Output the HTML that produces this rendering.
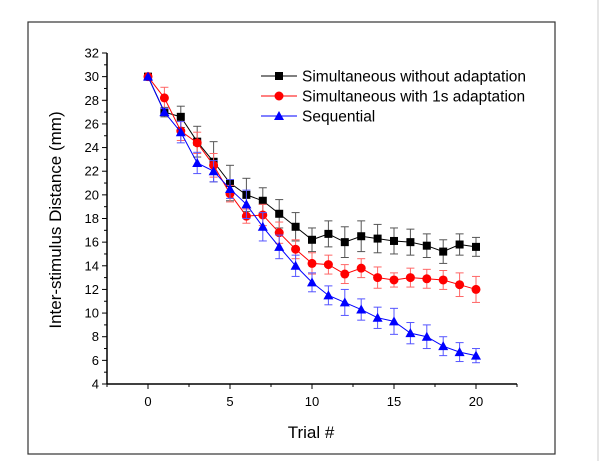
<!DOCTYPE html>
<html><head><meta charset="utf-8"><style>
html,body{margin:0;padding:0;background:#fff;}
svg{display:block;font-family:"Liberation Sans",Arial,sans-serif;}
</style></head><body>
<svg id="chart" width="600" height="461">
<rect x="28" y="22" width="527" height="432" fill="none" stroke="#333" stroke-width="1.2"/>
<line x1="598" y1="0" x2="598" y2="461" stroke="#ccc"/>
<g id="axes"></g>
<g id="series"></g>
<g id="legend"></g>
<text x="61" y="220" font-size="17" text-anchor="middle" transform="rotate(-90 61 220)">Inter-stimulus Distance (mm)</text>
<text x="311" y="438" font-size="17" text-anchor="middle">Trial #</text>
</svg>
<script>
const trials=[0,1,2,3,4,5,6,7,8,9,10,11,12,13,14,15,16,17,18,19,20];
const noAdapt=[30,27,26.6,24.5,22.8,21,20,19.5,18.4,17.3,16.2,16.7,16,16.5,16.3,16.1,16,15.7,15.2,15.8,15.6];
const noAdaptErr=[0,0.4,0.9,1.3,1.7,1.5,1.4,1.1,1.2,1.2,1.0,1.1,1.3,1.3,1.2,1.1,1.1,1.0,1.0,0.9,0.8];
const adapt1s=[30,28.2,25.4,24.4,22.5,20.1,18.2,18.3,16.8,15.4,14.2,14.1,13.3,13.8,13,12.8,13,12.9,12.8,12.4,12.0];
const adapt1sErr=[0,0.9,0.8,0.9,1.0,0.7,0.6,0.9,0.9,0.8,0.9,0.8,0.8,0.8,0.9,0.6,0.8,0.8,0.8,1.0,1.1];
const sequential=[30,27,25.3,22.7,22,20.5,19.2,17.3,15.6,14,12.6,11.5,10.9,10.3,9.6,9.3,8.3,8,7.2,6.7,6.4];
const sequentialErr=[0,0.3,0.9,0.9,0.9,0.8,1.2,1.2,1.0,0.9,0.8,0.8,1.1,0.9,0.9,1.1,0.9,1.0,0.8,0.8,0.6];
const yTicks=[4,6,8,10,12,14,16,18,20,22,24,26,28,30,32];
const xTicks=[0,5,10,15,20];
const seriesNames=["Simultaneous without adaptation","Simultaneous with 1s adaptation","Sequential"];

const NS="http://www.w3.org/2000/svg";
const L=107,R=517,T=53,B=384,X0=-2.5,X1=22.5,Y0=4,Y1=32;
const xs=v=>L+(v-X0)/(X1-X0)*(R-L);
const ys=v=>B-(v-Y0)/(Y1-Y0)*(B-T);
function mk(tag,attrs,parent){const e=document.createElementNS(NS,tag);for(const k in attrs)e.setAttribute(k,attrs[k]);parent.appendChild(e);return e;}
const axes=document.getElementById('axes');
let e=mk('line',{x1:L,y1:T,x2:L,y2:B,stroke:'#000','stroke-width':1.5},axes);


e=mk('line',{x1:L,y1:B,x2:R,y2:B,stroke:'#000','stroke-width':1.5},axes);


yTicks.forEach((t,i)=>{
  mk('line',{x1:L-5,y1:ys(t),x2:L,y2:ys(t),stroke:'#000','stroke-width':1},axes);
  if(i<yTicks.length-1)mk('line',{x1:L-3,y1:ys(t+1),x2:L,y2:ys(t+1),stroke:'#000','stroke-width':1},axes);
  const tx=mk('text',{x:L-8,y:ys(t)+4.5,'font-size':13,'text-anchor':'end'},axes);tx.textContent=t;
  
  
});
xTicks.forEach(t=>{
  mk('line',{x1:xs(t),y1:B,x2:xs(t),y2:B+5,stroke:'#000','stroke-width':1},axes);
  const tx=mk('text',{x:xs(t),y:B+22,'font-size':13,'text-anchor':'middle'},axes);tx.textContent=t;
  
  
});
[-2.5,2.5,7.5,12.5,17.5,22.5].forEach(t=>mk('line',{x1:xs(t),y1:B,x2:xs(t),y2:B+3,stroke:'#000','stroke-width':1},axes));

const ser=document.getElementById('series');
function marker(g,shape,x,y,color){
  if(shape==='sq')return mk('rect',{x:x-4,y:y-4,width:8,height:8,fill:color},g);
  if(shape==='ci')return mk('circle',{cx:x,cy:y,r:4.5,fill:color},g);
  return mk('polygon',{points:`${x},${y-5} ${x+5},${y+4} ${x-5},${y+4}`,fill:color},g);
}
function drawSeries(vals,errs,color,shape,name){
  const g=mk('g',{},ser);
  
  
  const ec=color==='#000'?'#555':(color==='#f00'?'#f66':'#55f');
  vals.forEach((v,i)=>{
    if(!errs[i])return;
    const x=xs(trials[i]);
    mk('line',{x1:x,y1:ys(v-errs[i]),x2:x,y2:ys(v+errs[i]),stroke:ec,'stroke-width':1},g);
    mk('line',{x1:x-4,y1:ys(v-errs[i]),x2:x+4,y2:ys(v-errs[i]),stroke:ec,'stroke-width':1},g);
    mk('line',{x1:x-4,y1:ys(v+errs[i]),x2:x+4,y2:ys(v+errs[i]),stroke:ec,'stroke-width':1},g);
  });
  mk('polyline',{points:vals.map((v,i)=>xs(trials[i])+','+ys(v)).join(' '),fill:'none',stroke:color,'stroke-width':1},g);
  vals.forEach((v,i)=>{const m=marker(g,shape,xs(trials[i]),ys(v),color);
    
    });
}
drawSeries(noAdapt,noAdaptErr,'#000','sq','series-no-adaptation');
drawSeries(adapt1s,adapt1sErr,'#f00','ci','series-1s-adaptation');
drawSeries(sequential,sequentialErr,'#00f','tr','series-sequential');

const leg=document.getElementById('legend');
const lc=['#000','#f00','#00f'],ls=['sq','ci','tr'];
seriesNames.forEach((n,i)=>{
  const y=76+i*20;
  const g=mk('g',{},leg);
  
  
  mk('line',{x1:261,y1:y,x2:297,y2:y,stroke:lc[i],'stroke-width':1},g);
  marker(g,ls[i],279,y,lc[i]);
  const t=mk('text',{x:302,y:y+5.5,'font-size':15.5},g);t.textContent=n;
});
</script>
</body></html>
